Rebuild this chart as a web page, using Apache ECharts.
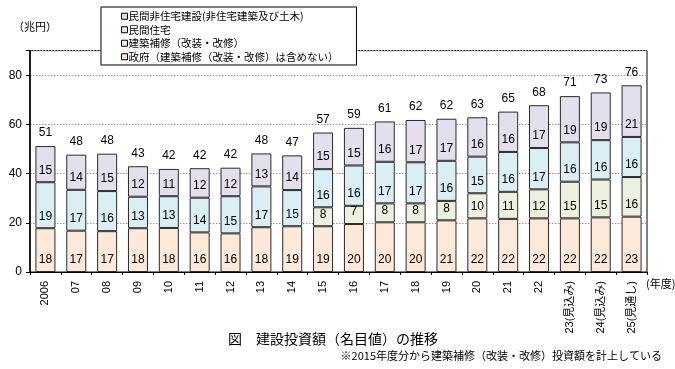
<!DOCTYPE html>
<html><head><meta charset="utf-8">
<script src="https://cdn.jsdelivr.net/npm/echarts@6/dist/echarts.min.js"></script>
<style>html,body{margin:0;padding:0;background:#fff}#c{width:675px;height:369px}</style>
</head><body><div id="c"></div>
<script>
const categories = ['2006','07','08','09','10','11','12','13','14','15','16','17','18','19','20','21','22','23(見込み)','24(見込み)','25(見通し)'];
const govValues = [17.8,16.8,16.6,17.8,17.9,16.1,15.7,18.2,18.6,18.6,19.5,20.2,20.2,21.0,21.8,21.6,21.8,21.8,22.2,22.5];
const renovationValues = ['-','-','-','-','-','-','-','-','-',7.7,7.4,7.7,7.7,7.9,10.2,11.0,11.8,14.9,15.4,16.1];
const housingValues = [18.7,16.6,16.3,12.8,12.9,14.1,15.1,16.6,14.7,15.5,16.4,16.9,16.7,16.3,14.9,16.2,16.8,16.0,16.0,16.3];
const nonResValues = [14.7,14.3,15.2,12.4,11.1,12.0,11.6,13.4,14.1,14.9,15.3,16.4,17.2,17.1,16.0,16.4,17.4,18.8,19.4,21.0];
const totalValues = [51,48,48,43,42,42,42,48,47,57,59,61,62,62,63,65,68,71,73,76];
const yTicks = [0,20,40,60,80];

const names = {
  non: '民間非住宅建設(非住宅建築及び土木)',
  house: '民間住宅',
  reno: '建築補修（改装・改修）',
  gov: '政府（建築補修（改装・改修）は含めない）'
};
const JP = '"Noto Sans CJK JP", sans-serif';
const NUM = '"Liberation Sans", "Noto Sans CJK JP", sans-serif';

const inLabel = {
  show: true, position: 'insideBottom', distance: 6,
  fontFamily: NUM, fontSize: 12, color: '#000',
  formatter: p => Math.round(p.value)
};
const border = { borderColor: '#2a2a2a', borderWidth: 1 };
function barSeries(name, data, color) {
  return {
    name, type: 'bar', stack: 'a', data, barWidth: 20,
    itemStyle: Object.assign({ color }, border),
    label: inLabel, emphasis: { disabled: true }
  };
}
const chart = echarts.init(document.getElementById('c'));
chart.setOption({
  animation: false,
  grid: { left: 30, right: 28, top: 50.6, bottom: 97, show: true, borderColor: '#000', borderWidth: 1 },
  legend: {
    data: [names.non, names.house, names.reno, names.gov],
    orient: 'vertical', left: 101, top: 7,
    backgroundColor: '#fff', borderColor: '#000', borderWidth: 1,
    padding: [4, 18, 3, 20], itemGap: 3,
    icon: 'rect', itemWidth: 6, itemHeight: 6,
    itemStyle: { borderColor: '#000', borderWidth: 1 },
    textStyle: { fontFamily: JP, fontSize: 10.5, color: '#000', padding: [0,0,0,-4] },
    selectedMode: false
  },
  xAxis: {
    type: 'category', data: categories,
    axisLine: { lineStyle: { color: '#000', width: 1 } },
    axisTick: { show: true, length: 3, lineStyle: { color: '#000' } },
    axisLabel: { rotate: 90, margin: 9, fontFamily: NUM, fontSize: 11, color: '#000', interval: 0 }
  },
  yAxis: {
    type: 'value', min: 0, max: 90, interval: 20,
    axisLine: { show: true, lineStyle: { color: '#000', width: 1.5 } },
    axisTick: { show: true, length: 4, lineStyle: { color: '#000' } },
    axisLabel: { margin: 8, fontFamily: NUM, fontSize: 12, color: '#000',
      formatter: v => yTicks.indexOf(v) >= 0 ? String(v) : '' },
    splitLine: { lineStyle: { color: '#999', type: [1.5, 1.5], width: 1 } }
  },
  series: [
    barSeries(names.gov, govValues, '#FDE9D9'),
    barSeries(names.reno, renovationValues, '#EBF1DE'),
    barSeries(names.house, housingValues, '#DAEEF3'),
    barSeries(names.non, nonResValues, '#E4DFEC'),
    {
      name: 'total', type: 'bar', stack: 'a', barWidth: 20,
      data: totalValues.map(() => 0),
      itemStyle: { color: 'rgba(0,0,0,0)', borderWidth: 0 },
      label: { show: true, position: 'top', distance: 7, fontFamily: NUM, fontSize: 12, color: '#000',
        formatter: p => totalValues[p.dataIndex] },
      emphasis: { disabled: true }
    }
  ],
  graphic: [
    { type: 'text', left: 13, top: 21, style: { text: '（兆円）', font: '11px ' + JP, fill: '#000' } },
    { type: 'text', left: 646, top: 278, style: { text: '(年度)', font: '11px ' + JP, fill: '#000' } },
    { type: 'text', left: 228, top: 332, style: { text: '図　建設投資額（名目値）の推移', font: '14px ' + JP, fill: '#000' } },
    { type: 'text', right: 13, top: 350, style: { text: '※2015年度分から建築補修（改装・改修）投資額を計上している', font: '11px ' + JP, fill: '#000' } }
  ]
});
</script></body></html>
